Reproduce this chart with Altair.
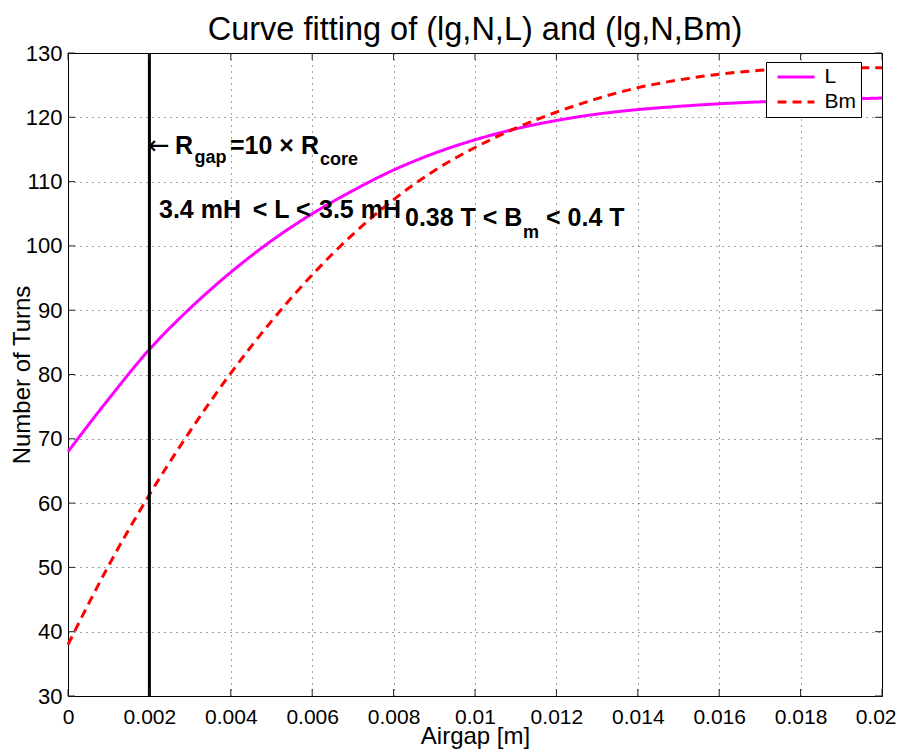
import altair as alt
import pandas as pd

# ---- data ----
airgap = [0.000, 0.001, 0.002, 0.003, 0.004, 0.005, 0.006, 0.007, 0.008, 0.009, 0.010,
          0.011, 0.012, 0.013, 0.014, 0.015, 0.016, 0.017, 0.018, 0.019, 0.020]
turns_L = [68.0, 76.2, 83.9, 90.3, 95.9, 100.8, 105.0, 108.6, 111.8, 114.4, 116.5,
           118.2, 119.5, 120.5, 121.2, 121.7, 122.1, 122.4, 122.6, 122.8, 123.0]
turns_Bm = [38.0, 50.3, 61.3, 71.2, 80.2, 88.3, 95.5, 101.8, 107.2, 111.7, 115.3,
            118.3, 120.8, 122.9, 124.6, 125.8, 126.7, 127.3, 127.6, 127.7, 127.7]
series_names = ["L", "Bm"]
series_colors = ["#ff00ff", "#ff0000"]
x_ticks = [0, 0.002, 0.004, 0.006, 0.008, 0.01, 0.012, 0.014, 0.016, 0.018, 0.02]
y_ticks = [30, 40, 50, 60, 70, 80, 90, 100, 110, 120, 130]
gap_line_x = [0.002]

# annotations (text, data x, data y)
ann_big_text = ["R", "=10 \u00d7 R", "3.4 mH", "< L <", "3.5 mH", "0.38 T < B", "< 0.4 T"]
ann_big_x = [0.002629, 0.003980, 0.002236, 0.004540, 0.006167, 0.008280, 0.011744]
ann_big_y = [114.31, 114.31, 104.34, 104.34, 104.34, 103.03, 103.03]
ann_sub_text = ["gap", "core", "m"]
ann_sub_x = [0.003111, 0.006192, 0.011179]
ann_sub_y = [112.89, 112.58, 101.23]
arrow_text = ["\u2190"]
arrow_x = [0.001966]
arrow_y = [115.46]

W, H = 814, 643
FONT = "Liberation Sans"

df = pd.DataFrame({
    "airgap": airgap + airgap,
    "turns": turns_L + turns_Bm,
    "series": [series_names[0]] * len(airgap) + [series_names[1]] * len(airgap),
})

xs = alt.Scale(domain=[0, 0.02], nice=False, zero=False)
ys = alt.Scale(domain=[30, 130], nice=False, zero=False)

x_axis = alt.Axis(values=x_ticks, format="~g", title="Airgap [m]", grid=True,
                  domain=False, ticks=False, labelPadding=10, labelFontSize=21,
                  labelFont=FONT, labelColor="black", titleFont=FONT, titleFontSize=24,
                  titleFontWeight="normal", titleColor="black", titleY=47,
                  titleBaseline="alphabetic", labelFlush=False, labelOverlap=False,
                  labelAlign={"condition": {"test": "datum.value >= 0.0199", "value": "right"},
                              "value": "center"},
                  labelOffset={"condition": {"test": "datum.value >= 0.0199", "value": 14},
                               "value": 0})
y_axis = alt.Axis(values=y_ticks, title="Number of Turns", grid=True,
                  domain=False, ticks=False, labelPadding=6, labelFontSize=22,
                  labelFont=FONT, labelColor="black", titleFont=FONT, titleFontSize=24,
                  titleFontWeight="normal", titleColor="black", titleX=-46,
                  titleBaseline="middle", labelFlush=False, labelOverlap=False)

lines = alt.Chart(df).mark_line(strokeWidth=3, interpolate="monotone").encode(
    x=alt.X("airgap:Q", scale=xs, axis=x_axis),
    y=alt.Y("turns:Q", scale=ys, axis=y_axis),
    color=alt.Color("series:N", scale=alt.Scale(domain=series_names, range=series_colors),
                    legend=alt.Legend(title=None)),
    strokeDash=alt.StrokeDash("series:N",
                              scale=alt.Scale(domain=series_names, range=[[1, 0], [9, 6]]),
                              legend=alt.Legend(title=None)),
)

vline = alt.Chart(pd.DataFrame({"x": gap_line_x})).mark_rule(
    color="black", strokeWidth=3).encode(x=alt.X("x:Q", scale=xs))

xt = pd.DataFrame({"x": x_ticks})
yt = pd.DataFrame({"y": y_ticks})
tick_style = dict(color="#222222", strokeWidth=1)
xt_bottom = alt.Chart(xt).mark_rule(**tick_style).encode(
    x=alt.X("x:Q", scale=xs), y=alt.value(H), y2=alt.value(H - 7))
xt_top = alt.Chart(xt).mark_rule(**tick_style).encode(
    x=alt.X("x:Q", scale=xs), y=alt.value(0), y2=alt.value(7))
yt_left = alt.Chart(yt).mark_rule(**tick_style).encode(
    y=alt.Y("y:Q", scale=ys), x=alt.value(0), x2=alt.value(7))
yt_right = alt.Chart(yt).mark_rule(**tick_style).encode(
    y=alt.Y("y:Q", scale=ys), x=alt.value(W - 7), x2=alt.value(W))

big = alt.Chart(pd.DataFrame({"t": ann_big_text, "x": ann_big_x, "y": ann_big_y})).mark_text(
    align="left", baseline="alphabetic", font=FONT, fontSize=25, fontWeight="bold",
    color="black").encode(x=alt.X("x:Q", scale=xs), y=alt.Y("y:Q", scale=ys), text="t:N")
sub = alt.Chart(pd.DataFrame({"t": ann_sub_text, "x": ann_sub_x, "y": ann_sub_y})).mark_text(
    align="left", baseline="alphabetic", font=FONT, fontSize=18, fontWeight="bold",
    color="black").encode(x=alt.X("x:Q", scale=xs), y=alt.Y("y:Q", scale=ys), text="t:N")
arrow = alt.Chart(pd.DataFrame({"t": arrow_text, "x": arrow_x, "y": arrow_y})).mark_text(
    align="left", baseline="middle", font="DejaVu Sans", fontSize=26,
    color="black").encode(x=alt.X("x:Q", scale=xs), y=alt.Y("y:Q", scale=ys), text="t:N")

chart = alt.layer(lines, vline, xt_bottom, xt_top, yt_left, yt_right, big, sub, arrow).properties(
    width=W, height=H,
    title=alt.TitleParams("Curve fitting of (lg,N,L) and (lg,N,Bm)", font=FONT, fontSize=32.5,
                          fontWeight="normal", color="black", anchor="middle", frame="group",
                          baseline="alphabetic", offset=13, dy=43),
    autosize=alt.AutoSizeParams(type="none"),
    padding={"left": 60, "top": 45, "right": 14, "bottom": 53},
).configure_view(stroke="black", strokeWidth=1).configure_axis(
    gridColor="#000000", gridDash=[1, 5], gridOpacity=0.75, gridWidth=1
).configure_legend(
    orient="none", legendX=698, legendY=9, fillColor="white", strokeColor="black",
    padding=4.5, symbolType="M-3,0H3", symbolSize=152, symbolStrokeWidth=3,
    symbolOffset=15, labelFont=FONT, labelFontSize=21, labelColor="black",
    labelOffset=18, rowPadding=3,
)

chart.save("out.html", embed_options={"renderer": "svg", "actions": False})
